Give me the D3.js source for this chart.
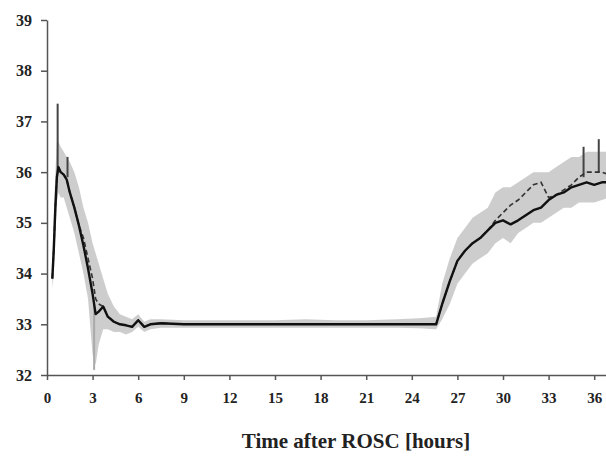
<!DOCTYPE html>
<html>
<head>
<meta charset="utf-8">
<script src="https://cdn.jsdelivr.net/npm/d3@7"></script>
<style>
  body { margin: 0; background: #fff; }
  svg text { font-family: "Liberation Serif", "DejaVu Serif", serif; font-weight: bold; fill: #222; }
</style>
</head>
<body>
<div id="chart"></div>
<script>
// time after ROSC (hours)
var hours = [0.35,0.45,0.55,0.65,0.75,0.9,1.1,1.3,1.5,1.8,2.1,2.4,2.7,3.0,3.2,3.4,3.7,4.0,4.4,4.8,5.2,5.6,6.0,6.4,6.8,7.5,9,11,13,15,17,19,21,23,24.5,25.6,26.0,26.5,27.0,27.5,28.0,28.5,29.0,29.5,30.0,30.5,31.0,31.5,32.0,32.5,33.0,33.5,34.0,34.5,35.0,35.5,36.0,36.5,37.0];
// solid series (temperature, deg C)
var tempA = [33.9,34.5,35.3,35.9,36.1,36.0,35.95,35.85,35.6,35.3,34.95,34.55,34.1,33.6,33.2,33.25,33.35,33.15,33.05,33.0,32.98,32.95,33.08,32.95,33.0,33.02,33.0,33.0,33.0,33.0,33.0,33.0,33.0,33.0,33.0,33.0,33.4,33.85,34.25,34.45,34.6,34.7,34.85,35.0,35.05,34.97,35.05,35.15,35.25,35.3,35.45,35.55,35.6,35.7,35.75,35.8,35.75,35.8,35.8];
// dashed series
var tempB = [33.9,34.5,35.3,35.9,36.1,36.0,35.95,35.85,35.6,35.3,34.95,34.7,34.3,33.9,33.5,33.4,33.35,33.15,33.05,33.0,32.98,32.95,33.08,32.95,33.0,33.02,33.0,33.0,33.0,33.0,33.0,33.0,33.0,33.0,33.0,33.0,33.4,33.85,34.25,34.45,34.6,34.7,34.85,35.05,35.2,35.35,35.45,35.6,35.75,35.8,35.5,35.55,35.65,35.75,35.9,36.0,36.0,36.0,35.95];
// shaded range
var bandLow  = [33.7,34.0,34.8,35.4,35.6,35.5,35.5,35.3,35.1,34.8,34.4,34.0,33.5,32.4,32.2,32.6,32.9,32.9,32.85,32.85,32.8,32.85,32.95,32.85,32.9,32.93,32.93,32.93,32.93,32.93,32.93,32.93,32.93,32.93,32.92,32.9,33.1,33.4,33.8,34.0,34.2,34.3,34.4,34.6,34.7,34.6,34.8,34.9,35.0,35.0,35.1,35.2,35.3,35.3,35.4,35.4,35.4,35.45,35.5];
var bandHigh = [34.3,35.2,36.0,36.6,36.6,36.5,36.4,36.3,36.2,36.0,35.7,35.3,35.0,34.6,34.4,34.2,33.9,33.6,33.35,33.2,33.15,33.1,33.2,33.05,33.1,33.1,33.08,33.08,33.08,33.08,33.1,33.08,33.08,33.1,33.12,33.15,33.8,34.3,34.7,34.9,35.1,35.2,35.3,35.6,35.7,35.7,35.8,35.9,36.0,36.0,36.0,36.1,36.2,36.3,36.3,36.4,36.4,36.4,36.4];
// single error-bar spikes
var spikeHours = [0.7, 1.35, 3.1, 35.3, 36.3];
var spikeLow   = [36.0, 35.9, 32.1, 35.9, 36.0];
var spikeHigh  = [37.35, 36.3, 33.4, 36.5, 36.65];

var xTicks = [0,3,6,9,12,15,18,21,24,27,30,33,36];
var yTicks = [32,33,34,35,36,37,38,39];

var width = 606, height = 462;
var svg = d3.select('#chart').append('svg')
  .attr('width', width)
  .attr('height', height);

var x = d3.scaleLinear().domain([0, 37]).range([47, 47 + 37 * 15.2]);
var y = d3.scaleLinear().domain([32, 39]).range([375, 20]);

var rows = hours.map(function (h, i) {
  return { h: h, a: tempA[i], b: tempB[i], lo: bandLow[i], hi: bandHigh[i] };
});

// grey band
var area = d3.area()
  .x(function (d) { return x(d.h); })
  .y0(function (d) { return y(d.lo); })
  .y1(function (d) { return y(d.hi); });
svg.append('path').datum(rows)
  .attr('d', area)
  .attr('fill', '#c4c4c4')
  .attr('opacity', 0.85);

// spikes
svg.selectAll('line.spike').data(spikeHours).enter().append('line')
  .attr('class', 'spike')
  .attr('x1', function (d) { return x(d); })
  .attr('x2', function (d) { return x(d); })
  .attr('y1', function (d, i) { return y(spikeLow[i]); })
  .attr('y2', function (d, i) { return y(spikeHigh[i]); })
  .attr('stroke', function (d, i) { return i == 2 ? '#aaa' : '#444'; })
  .attr('stroke-width', 2);

var lineB = d3.line()
  .x(function (d) { return x(d.h); })
  .y(function (d) { return y(d.b); });
svg.append('path').datum(rows)
  .attr('d', lineB)
  .attr('fill', 'none')
  .attr('stroke', '#333')
  .attr('stroke-width', 1.6)
  .attr('stroke-dasharray', '5,3');

var lineA = d3.line()
  .x(function (d) { return x(d.h); })
  .y(function (d) { return y(d.a); });
svg.append('path').datum(rows)
  .attr('d', lineA)
  .attr('fill', 'none')
  .attr('stroke', '#111')
  .attr('stroke-width', 2.4)
  .attr('stroke-linejoin', 'round');

// axes
var xAxis = d3.axisBottom(x).tickValues(xTicks).tickSize(5).tickPadding(12).tickSizeOuter(0);
var gx = svg.append('g').attr('transform', 'translate(0,375)').call(xAxis);
gx.select('.domain').attr('stroke', '#555').attr('stroke-width', 1.5);
gx.selectAll('.tick line').attr('stroke', '#555').attr('stroke-width', 1.5);
gx.selectAll('.tick text').attr('font-size', 15);

var yAxis = d3.axisLeft(y).tickValues(yTicks).tickFormat(d3.format('d'))
  .tickSize(6).tickPadding(9).tickSizeOuter(0);
var gy = svg.append('g').attr('transform', 'translate(47,0)').call(yAxis);
gy.select('.domain').attr('stroke', '#555').attr('stroke-width', 1.5);
gy.selectAll('.tick line').attr('stroke', '#555').attr('stroke-width', 1.5);
gy.selectAll('.tick text').attr('font-size', 16);

svg.append('text')
  .attr('x', 356)
  .attr('y', 448)
  .attr('text-anchor', 'middle')
  .attr('font-size', 21)
  .text('Time after ROSC [hours]');
</script>
</body>
</html>
